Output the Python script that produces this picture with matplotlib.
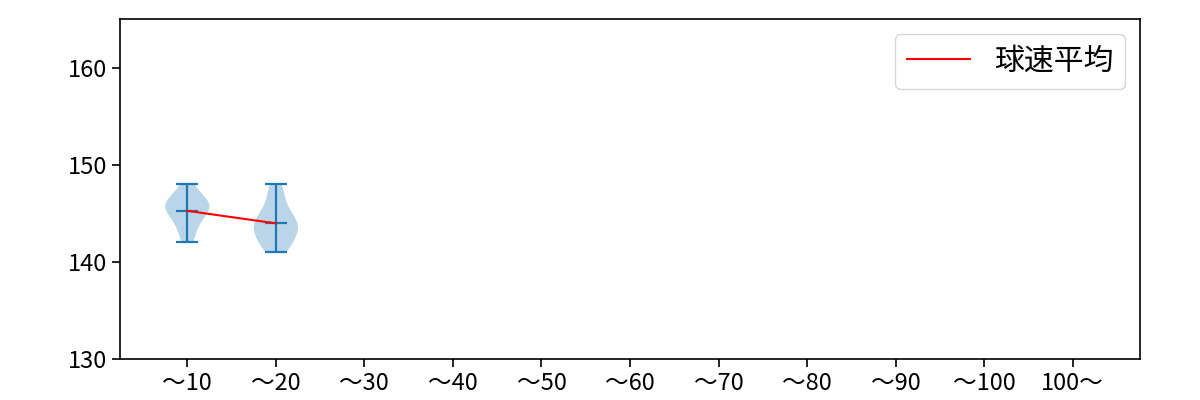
import numpy as np
import matplotlib.pyplot as plt

plt.rcParams['font.family'] = ['Noto Sans CJK JP', 'DejaVu Sans']

labels = ["～10", "～20", "～30", "～40", "～50", "～60", "～70", "～80", "～90", "～100", "100～"]

# pitch speeds (km/h) per pitch-count bucket, only first two have data
speed_10 = [142, 143, 144, 144.5, 145, 145.5, 146, 146, 146, 146, 147, 148]
speed_20 = [141, 141.5, 142, 142.5, 143, 143.5, 143.5, 144, 144, 144.5, 145, 146, 147, 148]

groups = [speed_10, speed_20]
pos = [1, 2]
means = [np.mean(g) for g in groups]

fig = plt.figure(figsize=(12, 4), dpi=100)
ax = fig.add_subplot(111)

parts = ax.violinplot(groups, positions=pos, showmeans=True)
for k in ['cmeans', 'cmins', 'cmaxes', 'cbars']:
    parts[k].set_linewidth(1.6)
ax.plot(pos, means, color='r', lw=1.5, label="球速平均")

ax.set_xticks(range(1, len(labels) + 1))
ax.set_xticklabels(labels)
ax.tick_params(labelsize=17, length=5.6, width=1.2)
for s in ax.spines.values():
    s.set_linewidth(1.2)
ax.set_xlim(0.24, 11.76)
ax.set_ylim(130, 165)
ax.set_yticks([130, 140, 150, 160])
ax.legend(loc='upper right', fontsize=21.5, handlelength=2.1)

plt.subplots_adjust(left=0.1, right=0.95, top=0.9525, bottom=0.1025)
plt.savefig("out.png", dpi=100)
